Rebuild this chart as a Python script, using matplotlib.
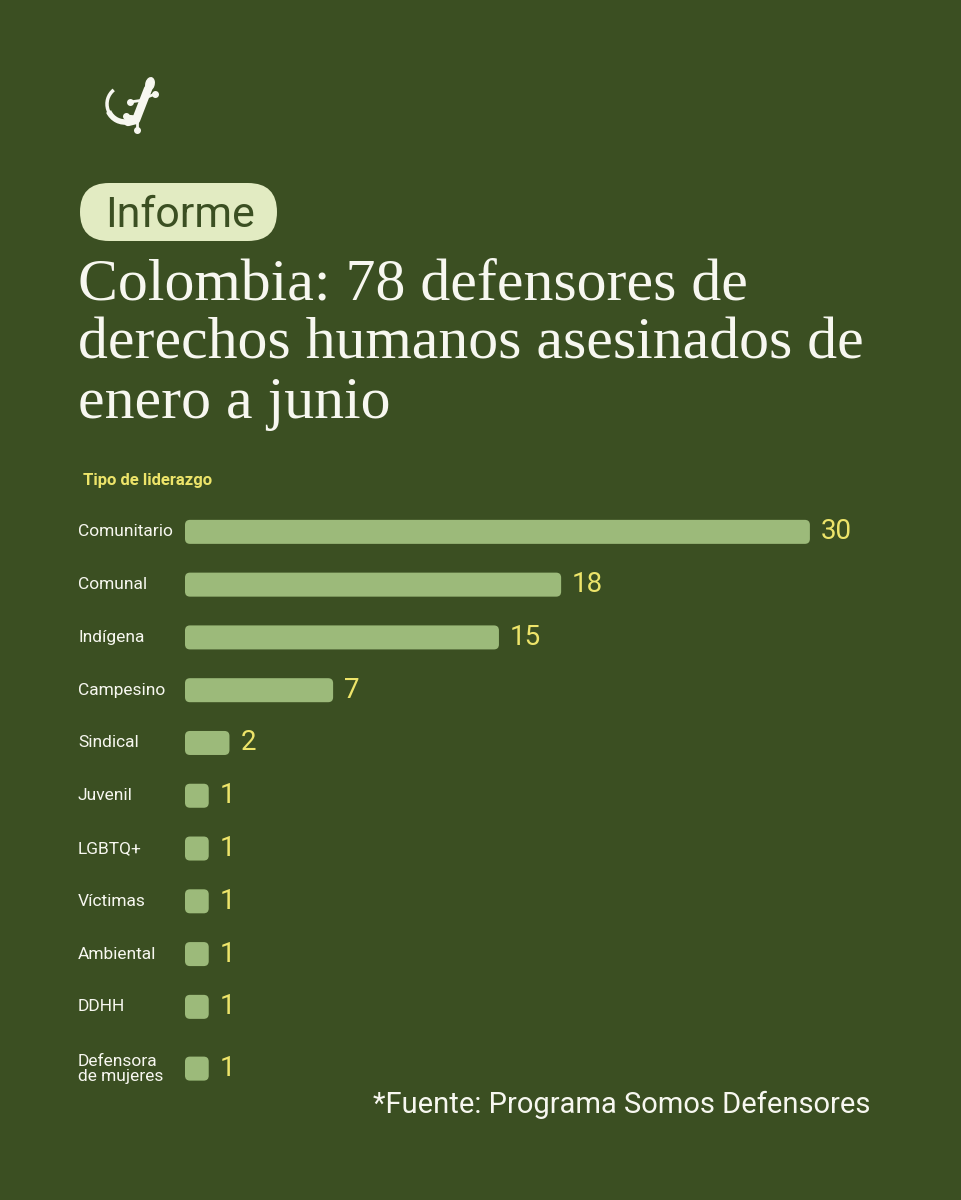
import numpy as np
import matplotlib.pyplot as plt
from matplotlib.patches import FancyBboxPatch, Arc, Ellipse
from matplotlib.transforms import blended_transform_factory

# data
categories = ["Comunitario", "Comunal", "Indígena", "Campesino", "Sindical",
              "Juvenil", "LGBTQ+", "Víctimas", "Ambiental", "DDHH",
              "Defensora\nde mujeres"]
values = [30, 18, 15, 7, 2, 1, 1, 1, 1, 1, 1]

title = "Colombia: 78 defensores de\nderechos humanos asesinados de\nenero a junio"
tag = "Informe"
axis_title = "Tipo de liderazgo"
source = "*Fuente: Programa Somos Defensores"

BG = "#3b4f22"
BAR = "#9cba7a"
YELLOW = "#ede46a"
PILL = "#e2ebc2"
WHITE = "#f7f7f0"

W, H = 961, 1200
fig = plt.figure(figsize=(W / 100, H / 100), dpi=100, facecolor=BG)


def fx(x):
    return x / W


def fy(y):
    return 1 - y / H


# logo (rough gecko)
fig.add_artist(Arc((fx(125), fy(104)), 36 / W, 36 / H, theta1=135, theta2=268,
                   transform=fig.transFigure, color=WHITE, lw=2.5))
fig.add_artist(Arc((fx(125), fy(104)), 36 / W, 36 / H, theta1=200, theta2=285,
                   transform=fig.transFigure, color=WHITE, lw=4))
fig.add_artist(plt.Line2D([fx(128), fx(136), fx(148)],
                          [fy(122), fy(120), fy(89)],
                          transform=fig.transFigure, color=WHITE, lw=6,
                          solid_capstyle="round"))
fig.add_artist(Ellipse((fx(150), fy(84)), 8 / W, 13 / H, angle=-25,
                       transform=fig.transFigure, color=WHITE))
for x0, y0, x1, y1 in [(145, 98, 155, 94), (144, 100, 130, 102),
                       (138, 117, 126, 116), (137, 119, 137, 130)]:
    fig.add_artist(plt.Line2D([fx(x0), fx(x1)], [fy(y0), fy(y1)],
                              transform=fig.transFigure, color=WHITE, lw=2,
                              solid_capstyle="round"))
    fig.add_artist(plt.Line2D([fx(x1)], [fy(y1)], marker="o", ms=4,
                              transform=fig.transFigure, color=WHITE))

# tag pill
pill = FancyBboxPatch((fx(80), fy(241)), fx(197), 58 / H,
                      boxstyle="round,pad=0,rounding_size=0.0302",
                      mutation_aspect=W / H,
                      transform=fig.transFigure, fc=PILL, ec="none")
fig.add_artist(pill)
fig.text(fx(180), fy(216), tag, ha="center", va="center", fontsize=31,
         family="Roboto", color=BG)

# title
fig.text(fx(78), fy(258), title, ha="left", va="top", fontsize=43,
         family="Liberation Serif", color=WHITE, linespacing=1.14)

fig.text(fx(83), fy(481), axis_title, ha="left", va="center", fontsize=12,
         family="Roboto", weight="bold", color=YELLOW)

# bars
xmax = 30.15
ax = fig.add_axes([fx(185), fy(1095), 625 / W, (1095 - 506) / H])
ax.set_facecolor("none")
ax.set_xlim(0, xmax)
ax.set_ylim(10.67, -0.49)
ax.axis("off")

pos = np.arange(len(categories), dtype=float)
pos[-1] += 0.17
bh = 0.455
bars = ax.barh(pos, values, height=bh, color=BAR)

# swap plain bars for rounded ones
xpp = xmax / 625
ypp = (10.67 + 0.49) / 589
for b in bars:
    x, y = b.get_x(), b.get_y()
    w, h = b.get_width(), b.get_height()
    b.set_visible(False)
    ax.add_patch(FancyBboxPatch((x, y), w + 3 * xpp, h,
                                boxstyle=f"round,pad=0,rounding_size={5 * xpp}",
                                mutation_aspect=ypp / xpp,
                                fc=BAR, ec="none", clip_on=False))

lab_tr = blended_transform_factory(fig.transFigure, ax.transData)
for p, cat, v in zip(pos, categories, values):
    ax.text(fx(78), p, cat, transform=lab_tr, ha="left", va="center",
            fontsize=12.5, family="Roboto", color=WHITE, linespacing=1.0)
    ax.annotate(str(v), (v, p), xytext=(10, 0), textcoords="offset points",
                ha="left", va="center", fontsize=20, family="Roboto",
                color=YELLOW, annotation_clip=False)

fig.text(fx(870), fy(1105), source, ha="right", va="center", fontsize=21,
         family="Roboto", color=WHITE)

fig.savefig("out.png", dpi=100, facecolor=BG)
